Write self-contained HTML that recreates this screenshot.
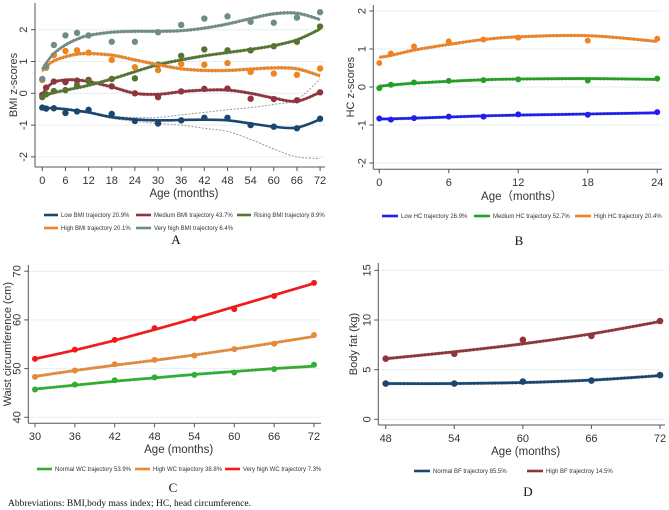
<!DOCTYPE html>
<html><head><meta charset="utf-8"><style>
html,body{margin:0;padding:0;background:#fff;}
svg{display:block;font-family:"Liberation Sans",sans-serif;}
</style></head><body>
<svg id="fig" width="669" height="510" viewBox="0 0 669 510"></svg>
<script>
// ---------- Panel A data (BMI z-scores) ----------
const aMonths = [0,1,3,6,9,12,18,24,30,36,42,48,54,60,66,72];
const aLowPts = [-0.45,-0.48,-0.47,-0.62,-0.57,-0.52,-0.65,-0.87,-0.95,-0.85,-0.77,-0.77,-1.0,-1.05,-1.1,-0.8];
const aLowFit = [-0.45,-0.46,-0.47,-0.5,-0.55,-0.6,-0.75,-0.82,-0.85,-0.84,-0.83,-0.85,-0.95,-1.05,-1.08,-0.82];
const aLowCiLo = [-0.47,-0.48,-0.49,-0.53,-0.58,-0.63,-0.79,-0.88,-0.95,-1.0,-1.1,-1.2,-1.45,-1.75,-2.0,-2.05];
const aLowCiHi = [-0.43,-0.44,-0.45,-0.47,-0.52,-0.57,-0.71,-0.76,-0.76,-0.68,-0.6,-0.52,-0.45,-0.35,-0.2,0.45];
const aMedPts = [-0.05,0.18,0.37,0.35,0.4,0.42,0.22,0.0,-0.12,0.06,0.14,0.15,-0.17,-0.18,-0.22,0.03];
const aMedFit = [-0.05,0.15,0.35,0.42,0.42,0.37,0.2,0.0,-0.03,0.05,0.1,0.1,0.0,-0.15,-0.25,0.03];
const aRisPts = [-0.12,-0.03,0.07,0.1,0.25,0.38,0.45,0.47,0.9,1.18,1.38,1.35,1.35,1.48,1.62,2.1];
const aRisFit = [-0.1,-0.05,0.02,0.1,0.17,0.25,0.45,0.68,0.9,1.05,1.18,1.28,1.38,1.5,1.68,2.02];
const aHighPts = [0.42,0.8,1.2,1.33,1.35,1.28,1.05,0.82,0.73,0.92,0.9,0.95,0.67,0.62,0.58,0.78];
const aHighFit = [0.7,0.85,1.02,1.15,1.23,1.25,1.2,1.05,0.9,0.77,0.72,0.72,0.76,0.8,0.77,0.55];
const aVhPts = [0.45,0.85,1.52,1.82,1.9,1.82,1.62,1.62,1.92,2.15,2.35,2.42,2.25,2.22,2.38,2.55];
const aVhFit = [0.75,0.95,1.25,1.52,1.7,1.82,1.92,1.95,1.95,1.97,2.05,2.18,2.35,2.5,2.52,2.32];
const aXTicks = [0,6,12,18,24,30,36,42,48,54,60,66,72];
const aYTicks = [-2,-1,0,1,2];
// ---------- Panel B data (HC z-scores) ----------
const bMonths = [0,1,3,6,9,12,18,24];
const bLowPts = [-0.83,-0.86,-0.82,-0.78,-0.78,-0.72,-0.73,-0.66];
const bLowFit = [-0.84,-0.84,-0.82,-0.79,-0.76,-0.74,-0.71,-0.68];
const bMedPts = [-0.03,0.06,0.12,0.16,0.18,0.2,0.17,0.22];
const bMedFit = [0.02,0.05,0.1,0.15,0.19,0.21,0.22,0.2];
const bHighPts = [0.63,0.88,1.07,1.2,1.25,1.3,1.22,1.27];
const bHighFit = [0.78,0.83,0.97,1.12,1.25,1.32,1.35,1.2];
const bXTicks = [0,6,12,18,24];
const bYTicks = [-2,-1,0,1,2];
// ---------- Panel C data (waist circumference) ----------
const cMonths = [30,36,42,48,54,60,66,72];
const cNormPts = [45.7,46.7,47.6,48.2,48.7,49.2,49.9,50.8];
const cNormFit = [45.8,46.6,47.4,48.1,48.8,49.4,50.0,50.5];
const cHighPts = [48.3,49.6,50.9,51.8,52.7,54.0,55.1,56.9];
const cHighFit = [48.4,49.6,50.7,51.7,52.8,54.0,55.3,56.6];
const cVhPts = [52.0,53.9,55.9,58.3,60.3,62.2,64.9,67.6];
const cVhFit = [52.0,53.8,55.8,58.0,60.3,62.7,65.1,67.5];
const cXTicks = [30,36,42,48,54,60,66,72];
const cYTicks = [40,50,60,70];
// ---------- Panel D data (body fat) ----------
const dMonths = [48,54,60,66,72];
const dNormPts = [3.6,3.6,3.8,3.9,4.45];
const dNormFit = [3.6,3.6,3.7,3.95,4.4];
const dHighPts = [6.1,6.6,8.0,8.4,9.9];
const dHighFit = [6.1,6.8,7.6,8.6,9.85];
const dXTicks = [48,54,60,66,72];
const dYTicks = [0,5,10,15];

const NS='http://www.w3.org/2000/svg';
const svg=document.getElementById('fig');
function el(tag,attrs,parent,text){const e=document.createElementNS(NS,tag);for(const k in attrs)e.setAttribute(k,attrs[k]);if(text!==undefined)e.textContent=text;(parent||svg).appendChild(e);return e;}
function smooth(pts){let d='M'+pts[0][0].toFixed(1)+','+pts[0][1].toFixed(1);
 for(let i=0;i<pts.length-1;i++){const p0=pts[i-1]||pts[i],p1=pts[i],p2=pts[i+1],p3=pts[i+2]||p2;
  const c1=[p1[0]+(p2[0]-p0[0])/6,p1[1]+(p2[1]-p0[1])/6],c2=[p2[0]-(p3[0]-p1[0])/6,p2[1]-(p3[1]-p1[1])/6];
  d+=' C'+c1.map(v=>v.toFixed(1))+' '+c2.map(v=>v.toFixed(1))+' '+p2[0].toFixed(1)+','+p2[1].toFixed(1);}
 return d;}

function panel(cfg){
 const g=el('g',{});
 
 
 const X=v=>cfg.x0+(v-cfg.xmin)*cfg.xs, Y=v=>cfg.y0-(v-cfg.ymin)*cfg.ys;
 cfg.yTicks.forEach(t=>{const l=el('line',{x1:cfg.axL,x2:cfg.axR,y1:Y(t),y2:Y(t),stroke:'#e6eff2','stroke-width':1},g);
  });
 const ya=el('line',{x1:cfg.axL,x2:cfg.axL,y1:cfg.axT,y2:cfg.axB,stroke:'#555','stroke-width':1},g);
 
 const xa=el('line',{x1:cfg.axL,x2:cfg.axR,y1:cfg.axB,y2:cfg.axB,stroke:'#555','stroke-width':1},g);
 
 cfg.yTicks.forEach(t=>{el('line',{x1:cfg.axL-4,x2:cfg.axL,y1:Y(t),y2:Y(t),stroke:'#555'},g);
  const tx=el('text',{x:cfg.axL-8,y:Y(t),'font-size':11,fill:'#333','text-anchor':'middle',transform:`rotate(-90 ${cfg.axL-8} ${Y(t)})`},g,String(t));
  });
 cfg.xTicks.forEach(t=>{el('line',{x1:X(t),x2:X(t),y1:cfg.axB,y2:cfg.axB+4,stroke:'#555'},g);
  const tx=el('text',{x:X(t),y:cfg.tickY,'font-size':11,fill:'#333','text-anchor':'middle'},g,String(t));
  });
 const xt=el('text',{x:(cfg.axL+cfg.axR)/2+4,y:cfg.titleY,'font-size':11.5,fill:'#333','text-anchor':'middle'},g,cfg.xTitle);
 
 const yt=el('text',{x:cfg.yTitleX,y:(cfg.axT+cfg.axB)/2,'font-size':11,fill:'#333','text-anchor':'middle',transform:`rotate(-90 ${cfg.yTitleX} ${(cfg.axT+cfg.axB)/2})`},g,cfg.yTitle);
 
 cfg.series.forEach(s=>{
  const sg=el('g',{},g);
  
  const lo=s.ciLo||s.fit.map(v=>v-cfg.ci), hi=s.ciHi||s.fit.map(v=>v+cfg.ci);
  [lo,hi].forEach(arr=>{const p=el('path',{d:smooth(cfg.months.map((m,i)=>[X(m),Y(arr[i])])),fill:'none',stroke:'#999','stroke-width':1,'stroke-dasharray':'2,1.5'},sg);
   });
  const ln=el('path',{d:smooth(cfg.months.map((m,i)=>[X(m),Y(s.fit[i])])),fill:'none',stroke:s.color,'stroke-width':2.6},sg);
  
  cfg.months.forEach((m,i)=>{const c=el('circle',{cx:X(m),cy:Y(s.pts[i]),r:cfg.r||3,fill:s.color},sg);
   });
 });
 cfg.legend.forEach(L=>{const lg=el('g',{},g);
  
  el('line',{x1:L.x,x2:L.x+L.w,y1:L.y,y2:L.y,stroke:L.color,'stroke-width':2.6},lg);
  el('text',{x:L.x+L.w+3,y:L.y+2.2,'font-size':6,fill:'#333'},lg,L.text);});
 const pl=el('text',{x:cfg.letterX,y:cfg.letterY,'font-size':13,'font-family':'Liberation Serif, serif',fill:'#111','text-anchor':'middle'},g,cfg.letter);
 
}

const navy='#1a476f',maroon='#90353b',forest='#55752f',orng='#f0841f',teal='#6e8e84';
panel({name:'panel-a-bmi',months:aMonths,xmin:0,ymin:0,x0:42.3,xs:3.858,y0:93.3,ys:31.8,axL:35,axR:325,axT:3,axB:167,
 tickY:184,titleY:197,yTitleX:17,xTitle:'Age (months)',yTitle:'BMI z-scores',xTicks:aXTicks,yTicks:aYTicks,ci:0.04,r:3.2,
 series:[{key:'low-bmi',color:navy,pts:aLowPts,fit:aLowFit,ciLo:aLowCiLo,ciHi:aLowCiHi},{key:'medium-bmi',color:maroon,pts:aMedPts,fit:aMedFit},
 {key:'rising-bmi',color:forest,pts:aRisPts,fit:aRisFit},{key:'high-bmi',color:orng,pts:aHighPts,fit:aHighFit},{key:'very-high-bmi',color:teal,pts:aVhPts,fit:aVhFit}],
 legend:[{x:44,y:215,w:14,color:navy,text:'Low BMI trajectory 20.9%'},{x:136,y:215,w:15,color:maroon,text:'Medium BMI trajectory 43.7%'},
 {x:237,y:215,w:14,color:forest,text:'Rising BMI trajectory 8.9%'},{x:44,y:228,w:14,color:orng,text:'High BMI trajectory 20.1%'},{x:136,y:228,w:15,color:teal,text:'Very high BMI trajectory 6.4%'}],
 letter:'A',letterX:176,letterY:244});
panel({name:'panel-b-hc',months:bMonths,xmin:0,ymin:0,x0:379.3,xs:11.58,y0:87,ys:38,axL:373.3,axR:662,axT:5,axB:169.3,
 tickY:186,titleY:200,yTitleX:354,xTitle:'Age\uFF08months\uFF09',yTitle:'HC z-scores',xTicks:bXTicks,yTicks:bYTicks,ci:0.03,r:3,
 series:[{key:'low-hc',color:'#1f1fef',pts:bLowPts,fit:bLowFit},{key:'medium-hc',color:'#22a022',pts:bMedPts,fit:bMedFit},{key:'high-hc',color:'#f5801f',pts:bHighPts,fit:bHighFit}],
 legend:[{x:382,y:216,w:16,color:'#1f1fef',text:'Low HC trajectory  26.9%'},{x:474,y:216,w:16,color:'#22a022',text:'Medium HC trajectory  52.7%'},{x:575,y:216,w:16,color:'#f5801f',text:'High HC trajectory  20.4%'}],
 letter:'B',letterX:519,letterY:245});
panel({name:'panel-c-waist',months:cMonths,xmin:30,ymin:40,x0:35,xs:6.643,y0:417.3,ys:4.87,axL:28.3,axR:321,axT:265,axB:423.3,
 tickY:440,titleY:453,yTitleX:11,xTitle:'Age (months)',yTitle:'Waist circumference (cm)',xTicks:cXTicks,yTicks:cYTicks,ci:0.2,r:3,
 series:[{key:'normal-wc',color:'#2fae2f',pts:cNormPts,fit:cNormFit},{key:'high-wc',color:'#e58a3a',pts:cHighPts,fit:cHighFit},{key:'very-high-wc',color:'#f51a1a',pts:cVhPts,fit:cVhFit}],
 legend:[{x:37,y:469,w:15,color:'#2fae2f',text:'Normal WC trajectory  53.9%'},{x:135,y:469,w:15,color:'#e58a3a',text:'High WC trajectory  38.8%'},{x:225,y:469,w:15,color:'#f51a1a',text:'Very high WC trajectory  7.3%'}],
 letter:'C',letterX:173,letterY:492});
panel({name:'panel-d-bodyfat',months:dMonths,xmin:48,ymin:0,x0:385.7,xs:11.43,y0:419.3,ys:9.93,axL:378.3,axR:665,axT:263,axB:425,
 tickY:442,titleY:455,yTitleX:357,xTitle:'Age (months)',yTitle:'Body fat (kg)',xTicks:dXTicks,yTicks:dYTicks,ci:0.12,r:3.3,
 series:[{key:'normal-bf',color:navy,pts:dNormPts,fit:dNormFit},{key:'high-bf',color:maroon,pts:dHighPts,fit:dHighFit}],
 legend:[{x:414,y:471,w:16,color:navy,text:'Normal BF trajectory 85.5%'},{x:527,y:471,w:16,color:maroon,text:'High BF trajectroy 14.5%'}],
 letter:'D',letterX:528,letterY:496});
const ab=el('text',{x:8,y:506,'font-size':9.5,'font-family':'Liberation Serif, serif',fill:'#111'},svg,'Abbreviations: BMI,body mass index; HC, head circumference.');


</script>
</body></html>
